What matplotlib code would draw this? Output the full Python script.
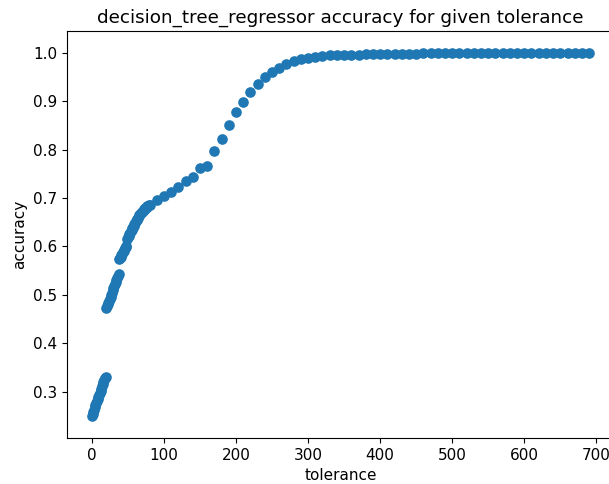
import matplotlib
matplotlib.use("Agg")
import matplotlib.pyplot as plt

# tolerance 0..80 step 1
tol_dense = list(range(0, 81))
acc_dense = [
    0.250, 0.254, 0.259, 0.263, 0.268, 0.272, 0.276, 0.281, 0.285, 0.289,
    0.294, 0.298, 0.302, 0.306, 0.311, 0.315, 0.319, 0.324, 0.328, 0.331,
    0.472, 0.476, 0.480, 0.484, 0.488, 0.492, 0.496, 0.500, 0.504, 0.510,
    0.515, 0.519, 0.523, 0.527, 0.531, 0.535, 0.539, 0.543, 0.573, 0.576,
    0.579, 0.582, 0.585, 0.588, 0.591, 0.593, 0.596, 0.598, 0.601, 0.616,
    0.619, 0.622, 0.625, 0.628, 0.631, 0.634, 0.637, 0.640, 0.643, 0.646,
    0.649, 0.652, 0.654, 0.657, 0.659, 0.662, 0.664, 0.666, 0.668, 0.670,
    0.672, 0.674, 0.676, 0.677, 0.679, 0.680, 0.681, 0.683, 0.684, 0.685,
    0.686,
]

# tolerance 90..690 step 10
tol_sparse = list(range(90, 700, 10))
acc_sparse = [
    0.696, 0.705, 0.713, 0.722, 0.736, 0.743, 0.761, 0.767, 0.798, 0.822,   # 90-180
    0.850, 0.877, 0.898, 0.918, 0.935, 0.949, 0.960, 0.969, 0.976, 0.982,   # 190-280
    0.987, 0.990, 0.992, 0.994, 0.995, 0.995, 0.996, 0.996, 0.996, 0.997,   # 290-380
    0.997, 0.997, 0.997, 0.997, 0.997, 0.998, 0.998, 0.999, 1.000, 1.000,   # 390-480
    1.000, 1.000, 1.000, 1.000, 1.000, 1.000, 1.000, 1.000, 1.000, 1.000,   # 490-580
    1.000, 1.000, 1.000, 1.000, 1.000, 1.000, 1.000, 1.000, 1.000, 1.000,   # 590-680
    1.000,                                                                  # 690
]

tolerance = tol_dense + tol_sparse
accuracy = acc_dense + acc_sparse

plt.rcParams['font.family'] = ['DejaVu Sans']
fig = plt.figure(figsize=(6.09, 4.84), dpi=100)
ax = fig.add_axes([67/609, 1 - 438/484, (614 - 67)/609, (438 - 31)/484])
ax.scatter(tolerance, accuracy, s=44, color='#1f77b4')
ax.set_ylim(0.2043, 1.0448)
ax.set_title('decision_tree_regressor accuracy for given tolerance', fontsize=13.25)
ax.set_xlabel('tolerance', fontsize=11)
ax.set_ylabel('accuracy', fontsize=11)
ax.tick_params(labelsize=11)
fig.savefig('out.png', dpi=100)
